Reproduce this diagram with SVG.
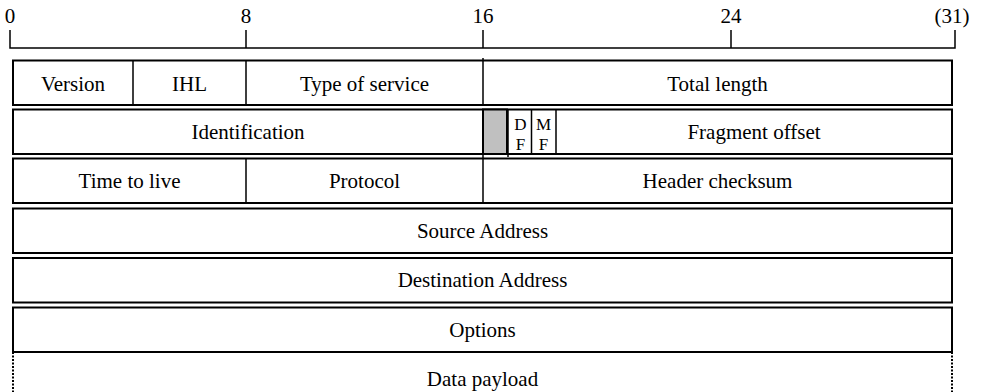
<svg xmlns="http://www.w3.org/2000/svg" width="982" height="392" viewBox="0 0 982 392">
<style>
.t{font-family:'Liberation Serif','Times New Roman',serif;font-size:21px;fill:#000;text-anchor:middle}
.s{font-size:17px}
.box{fill:#fff;stroke:#000;stroke-width:2}
.div{stroke:#000;stroke-width:1.5;fill:none}
.dot{stroke:#000;stroke-width:2;stroke-dasharray:2,1.5;fill:none}
</style>
<g id="scale">
<path d="M10,30V48H955V30M246,30V48M483,30V48M731,30V48" class="div" stroke-width="2"/>
<g class="t">
<text x="10" y="23">0</text>
<text x="246" y="23">8</text>
<text x="483" y="23">16</text>
<text x="731" y="23">24</text>
<text x="952" y="23">(31)</text>
</g>
</g>
<g id="row1">
<rect class="box" x="13" y="60.5" width="939" height="44.5"/>
<path class="div" d="M133,60.5V105M246,60.5V105M483,58V105"/>
<g class="t">
<text x="73" y="91">Version</text>
<text x="189.5" y="91">IHL</text>
<text x="364.5" y="91">Type of service</text>
<text x="717.5" y="91">Total length</text>
</g>
</g>
<g id="row2">
<rect class="box" x="13" y="109.5" width="939" height="44.5"/>
<rect x="483" y="109.5" width="24" height="44.5" fill="#c0c0c0" stroke="#000" stroke-width="2"/>
<path class="div" d="M508,109.5V157M531.5,109.5V154M556,109.5V154"/>
<g class="t">
<text x="248" y="139">Identification</text>
<text class="s" x="520.5" y="130">D</text>
<text class="s" x="520.5" y="150">F</text>
<text class="s" x="543.5" y="130">M</text>
<text class="s" x="543.5" y="150">F</text>
<text x="754" y="139">Fragment offset</text>
</g>
</g>
<g id="row3">
<rect class="box" x="13" y="158.5" width="939" height="44.5"/>
<path class="div" d="M246,158.5V203M483,154V203"/>
<g class="t">
<text x="129.5" y="188">Time to live</text>
<text x="364.5" y="188">Protocol</text>
<text x="717.5" y="188">Header checksum</text>
</g>
</g>
<g id="row4">
<rect class="box" x="13" y="208.5" width="939" height="44.5"/>
<text class="t" x="482.5" y="238">Source Address</text>
</g>
<g id="row5">
<rect class="box" x="13" y="258" width="939" height="44.5"/>
<text class="t" x="482.5" y="287">Destination Address</text>
</g>
<g id="row6">
<rect class="box" x="13" y="307.5" width="939" height="44.5"/>
<text class="t" x="482.5" y="337">Options</text>
</g>
<g id="payload">
<path class="dot" d="M13,352V392M952,352V392"/>
<text class="t" x="482.5" y="386">Data payload</text>
</g>
</svg>
